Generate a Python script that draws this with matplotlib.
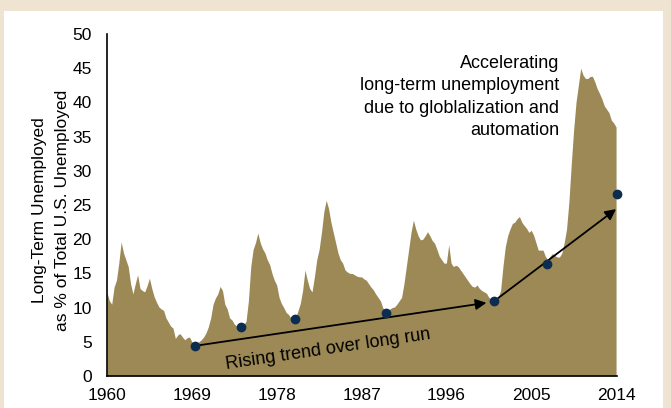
import numpy as np
import matplotlib
matplotlib.use("Agg")
from matplotlib import pyplot as plt
from matplotlib.patches import Rectangle

# share of unemployed out of work 27+ weeks, quarterly, 1960 Q1 .. 2014 Q1
share = [
    12.2, 11.0, 10.5, 13.0,   # 1960
    14.0, 16.5, 19.6, 18.0,   # 1961
    17.0, 16.0, 13.5, 12.0,   # 1962
    13.5, 14.8, 12.8, 12.5,   # 1963
    12.3, 13.2, 14.3, 12.8,   # 1964
    11.6, 10.8, 10.1, 9.8,    # 1965
    9.6, 8.5, 7.9, 7.3,       # 1966
    7.0, 5.5, 6.0, 6.2,       # 1967
    5.7, 5.3, 5.6, 5.7,       # 1968
    5.0, 4.6, 4.8, 5.0,       # 1969
    5.3, 5.7, 6.3, 7.2,       # 1970
    8.5, 10.5, 11.4, 12.0,    # 1971
    13.1, 12.5, 10.5, 9.8,    # 1972
    8.5, 8.2, 7.6, 7.3,       # 1973
    7.0, 7.0, 7.5, 8.0,       # 1974
    11.0, 16.0, 18.5, 19.5,   # 1975
    20.9, 19.5, 18.6, 18.0,   # 1976
    17.0, 16.3, 15.0, 14.0,   # 1977
    13.3, 11.5, 10.6, 10.0,   # 1978
    9.3, 9.0, 8.5, 8.2,       # 1979
    8.5, 9.5, 10.6, 12.5,     # 1980
    15.5, 14.0, 12.8, 12.3,   # 1981
    14.5, 17.0, 18.5, 21.0,   # 1982
    24.0, 25.7, 24.5, 22.5,   # 1983
    21.0, 19.5, 18.0, 17.0,   # 1984
    16.5, 15.5, 15.2, 15.0,   # 1985
    15.0, 14.8, 14.6, 14.5,   # 1986
    14.5, 14.2, 14.0, 13.5,   # 1987
    13.0, 12.6, 12.0, 11.5,   # 1988
    11.0, 10.0, 9.5, 9.5,     # 1989
    9.8, 10.0, 10.1, 10.5,    # 1990
    11.0, 11.5, 13.5, 16.0,   # 1991
    18.5, 21.0, 22.8, 21.5,   # 1992
    20.5, 19.9, 20.0, 20.5,   # 1993
    21.1, 20.5, 19.8, 19.4,   # 1994
    18.5, 17.5, 17.0, 16.5,   # 1995
    16.5, 19.2, 16.5, 16.0,   # 1996
    16.2, 16.0, 15.5, 15.0,   # 1997
    14.5, 14.0, 13.5, 13.1,   # 1998
    13.0, 13.3, 12.8, 12.5,   # 1999
    12.3, 12.1, 11.5, 11.2,   # 2000
    11.0, 11.0, 11.5, 12.5,   # 2001
    16.0, 18.9, 20.5, 21.5,   # 2002
    22.3, 22.5, 23.0, 23.3,   # 2003
    22.5, 22.0, 21.6, 21.0,   # 2004
    21.3, 20.6, 19.5, 18.4,   # 2005
    18.4, 18.4, 17.5, 17.0,   # 2006
    17.5, 17.9, 17.6, 17.4,   # 2007
    17.4, 18.0, 19.5, 21.5,   # 2008
    25.5, 31.0, 36.0, 40.0,   # 2009
    42.5, 45.0, 44.0, 43.5,   # 2010
    43.5, 43.8, 43.8, 43.0,   # 2011
    42.0, 41.3, 40.5, 39.5,   # 2012
    39.0, 38.5, 37.4, 37.0,   # 2013
    36.4,                     # 2014
]
years = 1960 + 0.25 * np.arange(len(share))

# cycle troughs marked with dots
dot_years = [1969.3, 1974.2, 1979.9, 1989.6, 2001.0, 2006.7, 2014.05]
dot_vals = [4.4, 7.1, 8.3, 9.2, 10.9, 16.4, 26.6]

xticks = [1960, 1969, 1978, 1987, 1996, 2005, 2014]
yticks = [0, 5, 10, 15, 20, 25, 30, 35, 40, 45, 50]

fill_color = '#9c8956'
dot_color = '#0c2d52'
frame_color = '#efe4d2'

plt.rcParams['font.family'] = ['Liberation Sans Narrow', 'Liberation Sans', 'DejaVu Sans']
plt.rcParams['font.size'] = 12.5

fig = plt.figure(figsize=(6.71, 4.08), dpi=100)
fig.patch.set_facecolor(frame_color)
# white panel inside the beige frame
fig.patches.append(Rectangle((4 / 671, 0), 659 / 671, 397 / 408,
                             transform=fig.transFigure, facecolor='white',
                             edgecolor='none', zorder=-1))

ax = fig.add_axes([107 / 671, 32 / 408, 510 / 671, 342 / 408])
ax.set_facecolor('none')
ax.fill_between(years, 0, share, color=fill_color, lw=0)

ax.set_xlim(1960, 2014.1)
ax.set_ylim(0, 50)
ax.set_xticks(xticks)
ax.set_yticks(yticks)
ax.tick_params(length=0)
ax.tick_params(axis='y', pad=11)
ax.tick_params(axis='x', pad=9)
for s in ['top', 'right']:
    ax.spines[s].set_visible(False)
for s in ['left', 'bottom']:
    ax.spines[s].set_linewidth(1.2)
    ax.spines[s].set_color('black')

# trend arrows
ax.annotate('', xy=(2000.25, 10.7), xytext=(dot_years[0], dot_vals[0]),
            arrowprops=dict(arrowstyle='-|>', color='black', lw=1.3,
                            mutation_scale=16, shrinkA=0, shrinkB=0))
ax.annotate('', xy=(2014.0, 24.4), xytext=(2001.5, 11.4),
            arrowprops=dict(arrowstyle='-|>', color='black', lw=1.3,
                            mutation_scale=16, shrinkA=0, shrinkB=0))

ax.scatter(dot_years, dot_vals, s=36, color=dot_color, zorder=5, clip_on=False)

ax.text(1983.4, 3.9, 'Rising trend over long run', rotation=8.4,
        ha='center', va='center', rotation_mode='anchor', fontsize=13)
ax.text(2008.0, 46.9, 'Accelerating\nlong-term unemployment\ndue to globlalization and\nautomation',
        ha='right', va='top', multialignment='right', linespacing=1.4,
        fontsize=13)

fig.text(51 / 671, 1 - 210 / 408, 'Long-Term Unemployed\nas % of Total U.S. Unemployed',
         rotation=90, ha='center', va='center', multialignment='center',
         linespacing=1.6)

fig.savefig('out.png', dpi=100, facecolor=frame_color)
